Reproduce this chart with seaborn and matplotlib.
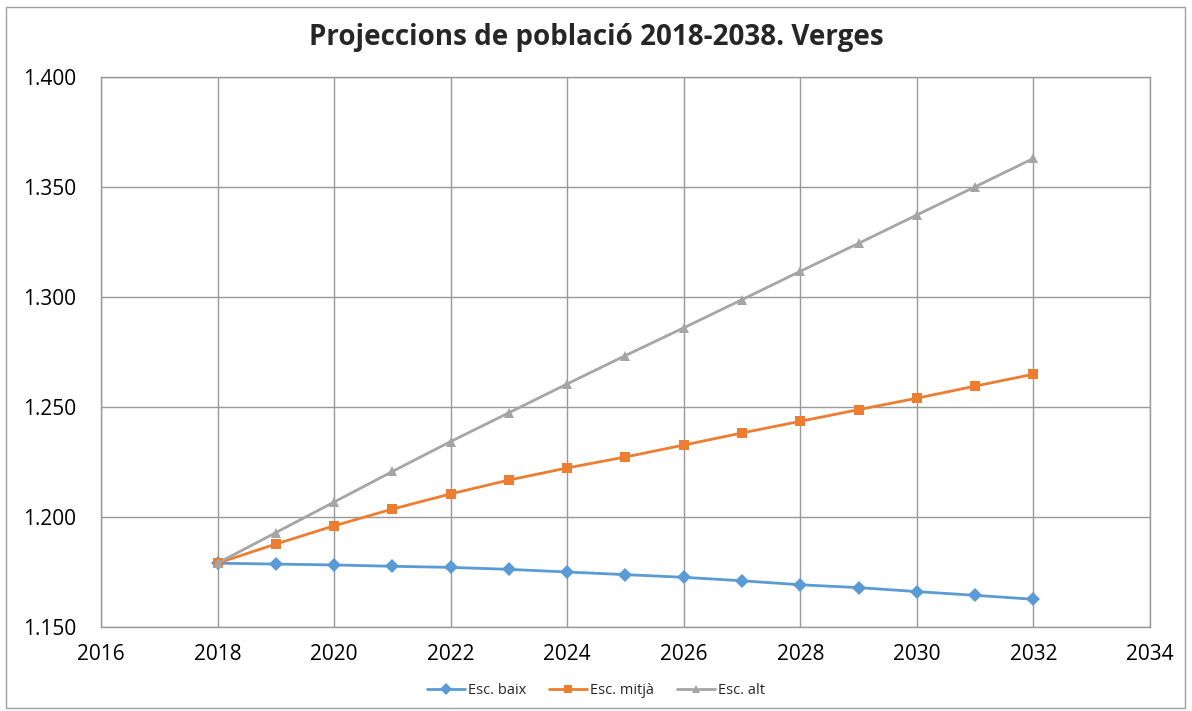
import matplotlib
matplotlib.use("Agg")
import matplotlib.pyplot as plt
import matplotlib.ticker as mticker
from matplotlib.patches import Rectangle
import seaborn as sns
import pandas as pd

# Data (population, persons)
years = list(range(2018, 2033))
esc_baix = [1179.0, 1178.6, 1178.2, 1177.6, 1177.1, 1176.2, 1175.0, 1173.8,
            1172.6, 1171.0, 1169.2, 1167.9, 1166.1, 1164.4, 1162.6]
esc_mitja = [1179.0, 1187.7, 1196.0, 1203.6, 1210.5, 1216.8, 1222.3, 1227.3,
             1232.7, 1238.2, 1243.5, 1248.8, 1254.0, 1259.5, 1264.9]
esc_alt = [1179.0, 1192.9, 1206.8, 1220.7, 1234.3, 1247.4, 1260.5, 1273.4,
           1286.0, 1298.8, 1311.7, 1324.4, 1337.3, 1350.1, 1363.0]
series_names = ["Esc. baix", "Esc. mitjà", "Esc. alt"]
x_ticks = list(range(2016, 2035, 2))
y_ticks = [1150, 1200, 1250, 1300, 1350, 1400]

df = pd.DataFrame({
    "Any": years * 3,
    "Poblacio": esc_baix + esc_mitja + esc_alt,
    "Escenari": [series_names[0]] * len(years) + [series_names[1]] * len(years)
                + [series_names[2]] * len(years),
})

sns.set_style("white")
plt.rcParams["font.family"] = ["Open Sans", "DejaVu Sans"]

palette = {"Esc. baix": "#5B9BD5", "Esc. mitjà": "#ED7D31", "Esc. alt": "#A5A5A5"}
markers = {"Esc. baix": "D", "Esc. mitjà": "s", "Esc. alt": "^"}

fig = plt.figure(figsize=(11.92, 7.11), dpi=100)
ax = fig.add_axes([101 / 1192, 1 - 627 / 711, (1150 - 101) / 1192, (627 - 77) / 711])

sns.lineplot(data=df, x="Any", y="Poblacio", hue="Escenari", style="Escenari",
             palette=palette, markers=markers, dashes=False, linewidth=2,
             markersize=7, markeredgewidth=0, ax=ax, legend=True)

ax.set_xlim(2016, 2034)
ax.set_ylim(1150, 1400)
ax.set_xticks(x_ticks)
ax.set_yticks(y_ticks)
ax.yaxis.set_major_formatter(mticker.FuncFormatter(lambda v, p: f"{v:,.0f}".replace(",", ".")))
ax.grid(True, color="#999999", linewidth=1)
ax.set_axisbelow(True)
for side in ["left", "bottom", "right", "top"]:
    ax.spines[side].set_visible(True)
    ax.spines[side].set_color("#999999")
    ax.spines[side].set_linewidth(1)
ax.tick_params(axis="both", length=0, labelsize=15, colors="black")
ax.tick_params(axis="y", pad=18)
ax.tick_params(axis="x", pad=12)
ax.set_xlabel("")
ax.set_ylabel("")

fig.suptitle("Projeccions de població 2018-2038. Verges", fontsize=20,
             fontweight="bold", y=1 - 38 / 711, va="center")

handles, labels = ax.get_legend_handles_labels()
for h in handles:
    h.set_markersize(6)
ax.legend(handles, labels, loc="center", bbox_to_anchor=(0.5, 1 - 691 / 711),
          bbox_transform=fig.transFigure, ncol=3, frameon=False, fontsize=10.5,
          handlelength=2.6, columnspacing=1.6, handletextpad=0.2)

fig.patches.append(Rectangle((6 / 1192, 1 - 708 / 711), 1179 / 1192, 701 / 711,
                             transform=fig.transFigure, fill=False,
                             edgecolor="#A0A0A0", linewidth=1))

fig.savefig("out.png", dpi=100)
